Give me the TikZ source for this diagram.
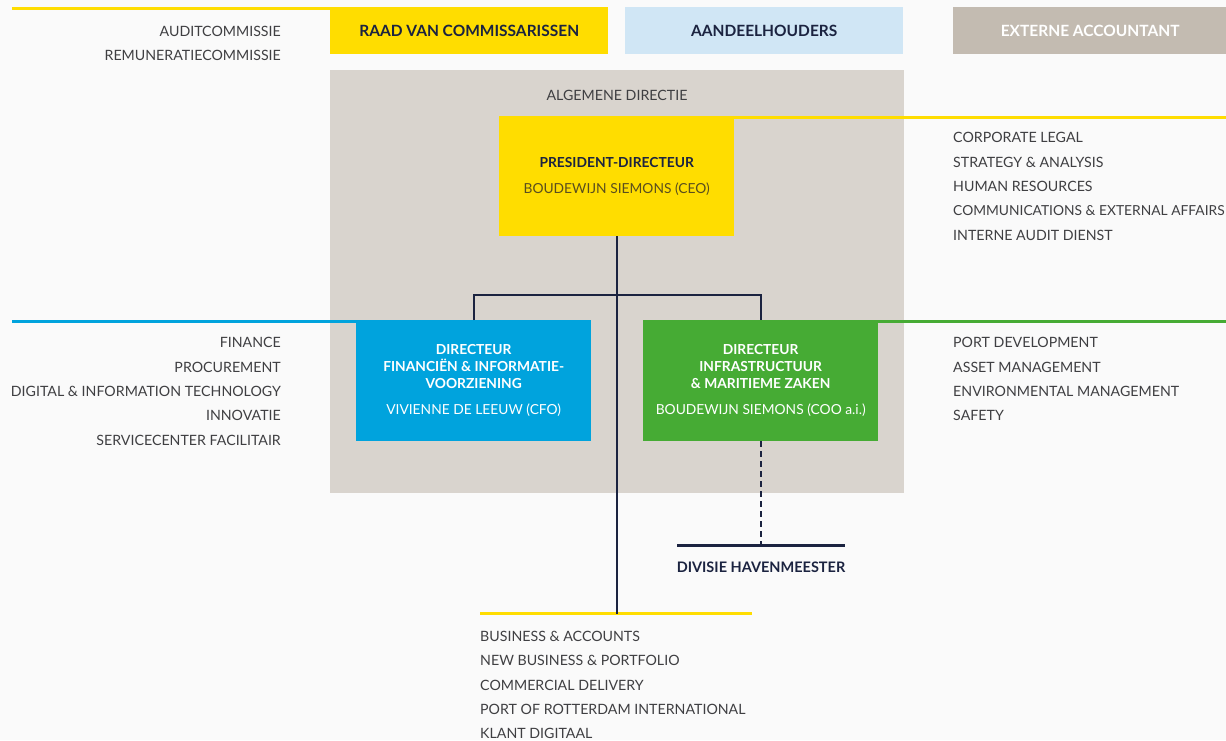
\documentclass[tikz,border=0pt]{standalone}
\usepackage{fontspec}
\setmainfont{Lato}
\definecolor{cyellow}{HTML}{FFDD00}
\definecolor{clblue}{HTML}{D0E6F5}
\definecolor{ctaupe}{HTML}{C3BBB1}
\definecolor{cpanel}{HTML}{D9D4CE}
\definecolor{cblue}{HTML}{00A3DD}
\definecolor{cgreen}{HTML}{46AB34}
\definecolor{cnavy}{HTML}{1B2340}
\definecolor{ctxt}{HTML}{3F3F42}
\definecolor{cname}{HTML}{5A4E1E}
\definecolor{cbg}{HTML}{FAFAFA}
\tikzset{
  bx/.style={rectangle, inner sep=0pt, anchor=north west, align=center, font=\fontsize{13.8}{17}\selectfont},
  bfnt/.style={font=\fontsize{15.5}{18}\selectfont\bfseries},
  lst/.style={font=\fontsize{14.2}{24.3}\selectfont, text=ctxt, inner sep=0pt},
  yline/.style={cyellow, line width=3pt},
  conn/.style={cnavy, line width=1.7pt},
}
\begin{document}
\begin{tikzpicture}[x=1pt,y=-1pt]
\fill[cbg] (0,0) rectangle (1226,740);
\useasboundingbox (0,0) rectangle (1226,740);
% top row
\node[bx, fill=cyellow, minimum width=278pt, minimum height=47pt, bfnt, text=cnavy] (rvc) at (330,7) {RAAD VAN COMMISSARISSEN};
\node[bx, fill=clblue, minimum width=278pt, minimum height=47pt, bfnt, text=cnavy] (aand) at (625,7) {AANDEELHOUDERS};
\node[bx, fill=ctaupe, minimum width=274pt, minimum height=47pt, bfnt, text=white] (ext) at (953,7) {EXTERNE ACCOUNTANT};
\coordinate (yl) at (12,8.5);
\draw[yline] (yl) -- (yl -| rvc.west);
\node[lst, anchor=north east, align=right] (com) at (281,26) {AUDITCOMMISSIE\\REMUNERATIECOMMISSIE};
% panel
\node[bx, fill=cpanel, minimum width=574pt, minimum height=423pt] (panel) at (330,70) {};
\node[lst, anchor=center] (algt) at (617,95) {ALGEMENE DIRECTIE};
% president
\node[bx, fill=cyellow, minimum width=235pt, minimum height=120pt, text=cnavy] (pres) at (499,116)
  {\textbf{PRESIDENT-DIRECTEUR}\\[9pt]\textcolor{cname}{BOUDEWIJN SIEMONS (CEO)}};
\coordinate (yr) at (1226,117.5);
\draw[yline] (yr -| pres.east) -- (yr);
\node[lst, anchor=north west, align=left] (stf) at (953,132.5) {CORPORATE LEGAL\\STRATEGY \& ANALYSIS\\HUMAN RESOURCES\\{\fontsize{13.8}{24.3}\selectfont COMMUNICATIONS \& EXTERNAL AFFAIRS}\\INTERNE AUDIT DIENST};
% directors
\node[bx, fill=cblue, minimum width=235pt, minimum height=121pt, text=white] (cfo) at (356,320)
  {\textbf{DIRECTEUR}\\\textbf{FINANCIËN \& INFORMATIE-}\\\textbf{VOORZIENING}\\[9pt]VIVIENNE DE LEEUW (CFO)};
\node[bx, fill=cgreen, minimum width=235pt, minimum height=121pt, text=white] (coo) at (643,320)
  {\textbf{DIRECTEUR}\\\textbf{INFRASTRUCTUUR}\\\textbf{\& MARITIEME ZAKEN}\\[9pt]BOUDEWIJN SIEMONS (COO a.i.)};
\coordinate (bl) at (12,321.5);
\draw[cblue, line width=3pt] (bl) -- (bl -| cfo.west);
\coordinate (gr) at (1226,321.5);
\draw[cgreen, line width=3pt] (gr -| coo.east) -- (gr);
\node[lst, anchor=north east, align=right] (fin) at (281,337.5) {FINANCE\\PROCUREMENT\\DIGITAL \& INFORMATION TECHNOLOGY\\INNOVATIE\\SERVICECENTER FACILITAIR};
\node[lst, anchor=north west, align=left] (inf) at (953,337.5) {PORT DEVELOPMENT\\ASSET MANAGEMENT\\ENVIRONMENTAL MANAGEMENT\\SAFETY};
% tree
\coordinate (ybl) at (480,613.5);
\coordinate (ybr) at (752,613.5);
\draw[yline] (ybl) -- (ybr);
\draw[conn] (pres.south) -- (pres.south |- ybl);
\draw[conn] (cfo.north) -- ++(0,-25) -| (coo.north);
% havenmeester
\coordinate (dvl) at (677,545);
\coordinate (dvr) at (845,545);
\draw[cnavy, line width=3pt] (dvl) -- (dvr);
\draw[cnavy, line width=1.8pt, dash pattern=on 6pt off 4pt] (coo.south) -- (coo.south |- dvl);
\node[font=\fontsize{14.5}{17}\selectfont\bfseries, text=cnavy, inner sep=0pt, anchor=center] (div) at (761,567) {DIVISIE HAVENMEESTER};
\node[lst, anchor=north west, align=left] (bus) at (480,631) {BUSINESS \& ACCOUNTS\\NEW BUSINESS \& PORTFOLIO\\COMMERCIAL DELIVERY\\PORT OF ROTTERDAM INTERNATIONAL\\KLANT DIGITAAL};
\end{tikzpicture}
\end{document}
